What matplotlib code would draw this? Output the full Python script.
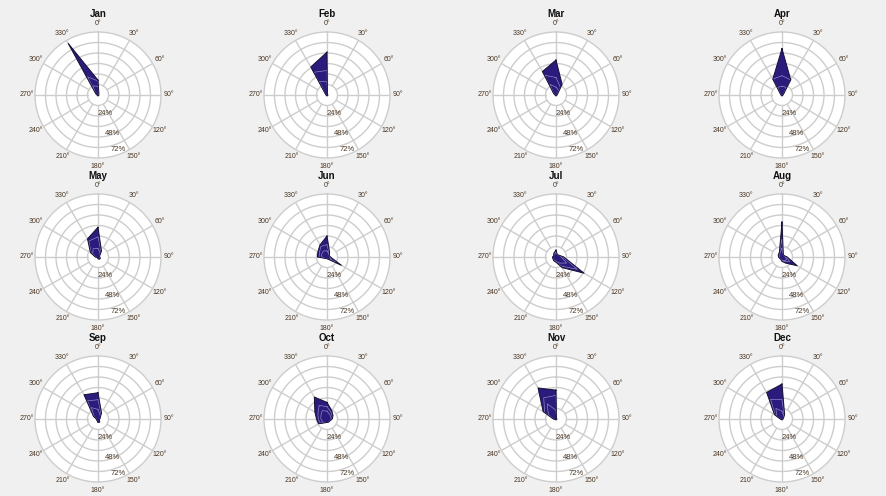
import numpy as np
import matplotlib
matplotlib.use("Agg")
import matplotlib.pyplot as plt

plt.rcParams['font.family'] = ['Liberation Sans', 'DejaVu Sans']

months = ["Jan", "Feb", "Mar", "Apr", "May", "Jun",
          "Jul", "Aug", "Sep", "Oct", "Nov", "Dec"]
directions_deg = [0, 30, 60, 90, 120, 150, 180, 210, 240, 270, 300, 330]
ring_pct = [12, 24, 36, 48, 60, 72]
ring_labels = ["24%", "48%", "72%"]
ring_label_pos = [23, 47, 66]

# frequency (%) per direction, cumulative over all speed classes
freq_all = [
    [17, 2, 1, 1, 1, 1, 1, 1, 1, 1, 3, 68],
    [49, 1, 1, 1, 1, 1, 1, 1, 1, 1, 2, 37],
    [40, 14, 2, 1, 1, 1, 1, 1, 1, 1, 3, 31],
    [53, 20, 2, 1, 1, 1, 1, 1, 1, 1, 2, 21],
    [34, 8, 2, 2, 3, 3, 2, 1, 1, 3, 10, 24],
    [24, 6, 3, 4, 19, 3, 2, 2, 3, 11, 12, 16],
    [8, 3, 4, 9, 37, 14, 6, 5, 4, 4, 3, 5],
    [40, 3, 3, 6, 20, 8, 5, 3, 3, 4, 5, 6],
    [30, 8, 3, 2, 2, 4, 4, 2, 2, 2, 6, 32],
    [19, 11, 8, 6, 4, 4, 4, 5, 11, 12, 16, 29],
    [33, 1, 1, 1, 1, 1, 1, 1, 1, 3, 17, 41],
    [40, 6, 2, 1, 1, 1, 1, 1, 1, 2, 10, 35],
]
# cumulative frequency of the two lower speed classes
freq_mid = [
    [16, 2, 1, 1, 1, 1, 1, 1, 1, 1, 3, 24],
    [28, 1, 1, 1, 1, 1, 1, 1, 1, 1, 2, 30],
    [20, 10, 2, 1, 1, 1, 1, 1, 1, 1, 3, 26],
    [22, 20, 2, 1, 1, 1, 1, 1, 1, 1, 2, 21],
    [23, 7, 2, 2, 3, 3, 2, 1, 1, 3, 9, 21],
    [14, 5, 3, 4, 12, 3, 2, 2, 3, 9, 10, 14],
    [6, 3, 4, 8, 28, 12, 6, 5, 4, 4, 3, 5],
    [20, 3, 3, 5, 10, 6, 5, 3, 3, 4, 5, 6],
    [22, 7, 3, 2, 2, 4, 4, 2, 2, 2, 6, 24],
    [14, 9, 7, 6, 4, 4, 4, 5, 9, 10, 12, 18],
    [27, 1, 1, 1, 1, 1, 1, 1, 1, 3, 15, 28],
    [22, 5, 2, 1, 1, 1, 1, 1, 1, 2, 9, 26],
]
# cumulative frequency of the lowest speed class
freq_low = [
    [10, 2, 1, 1, 1, 1, 1, 1, 1, 1, 3, 12],
    [15, 1, 1, 1, 1, 1, 1, 1, 1, 1, 2, 18],
    [9, 6, 2, 1, 1, 1, 1, 1, 1, 1, 3, 14],
    [10, 10, 2, 1, 1, 1, 1, 1, 1, 1, 2, 10],
    [10, 5, 2, 2, 3, 3, 2, 1, 1, 3, 7, 11],
    [7, 4, 3, 3, 6, 3, 2, 2, 3, 6, 7, 8],
    [5, 3, 4, 6, 14, 8, 5, 4, 4, 4, 3, 4],
    [10, 3, 3, 4, 6, 5, 4, 3, 3, 3, 4, 5],
    [11, 5, 3, 2, 2, 4, 4, 2, 2, 2, 5, 15],
    [9, 6, 5, 5, 4, 4, 4, 5, 6, 7, 8, 11],
    [10, 1, 1, 1, 1, 1, 1, 1, 1, 3, 10, 20],
    [9, 4, 2, 1, 1, 1, 1, 1, 1, 2, 7, 14],
]

FIG_W, FIG_H = 886, 496
col_cx = [98, 327, 556, 782]
row_cy = [95, 257, 419]
RADIUS_PX = 63

fill_color = "#2b1b7c"
inner_line = "#9a90cf"
grid_color = "#cdcdcd"
text_color = "#4a3522"

fig = plt.figure(figsize=(FIG_W / 100, FIG_H / 100), dpi=100)
fig.patch.set_facecolor("#f0f0f0")

theta = np.deg2rad(directions_deg)
theta_closed = np.append(theta, theta[0])
rmax = ring_pct[-1]

for i, month in enumerate(months):
    cx = col_cx[i % 4]
    cy = row_cy[i // 4]
    left = (cx - RADIUS_PX) / FIG_W
    bottom = 1 - (cy + RADIUS_PX) / FIG_H
    ax = fig.add_axes([left, bottom, 2 * RADIUS_PX / FIG_W, 2 * RADIUS_PX / FIG_H],
                      projection="polar")
    ax.set_theta_zero_location("N")
    ax.set_theta_direction(-1)
    ax.set_ylim(0, rmax)
    ax.set_facecolor("white")
    ax.grid(False)
    ax.set_xticks([])
    ax.set_yticks([])
    ax.spines["polar"].set_color(grid_color)
    ax.spines["polar"].set_linewidth(1.0)

    # rings and spokes
    ring_t = np.linspace(0, 2 * np.pi, 361)
    for r in ring_pct[:-1]:
        ax.plot(ring_t, np.full_like(ring_t, r), color=grid_color, lw=1.0, zorder=1)
    for d in directions_deg:
        t = np.deg2rad(d)
        ax.plot([t, t], [ring_pct[0], rmax], color=grid_color, lw=1.0, zorder=1)

    # wind rose polygons
    tot = np.append(freq_all[i], freq_all[i][0])
    mid = np.append(freq_mid[i], freq_mid[i][0])
    low = np.append(freq_low[i], freq_low[i][0])
    ax.fill(theta_closed, tot, color=fill_color, zorder=3, lw=0)
    ax.plot(theta_closed, tot, color="#151030", lw=0.7, zorder=5)
    ax.plot(theta_closed, mid, color=inner_line, lw=0.45, zorder=4)
    ax.plot(theta_closed, low, color=inner_line, lw=0.45, zorder=4)

    # angle labels
    for d in directions_deg:
        ax.text(np.deg2rad(d), rmax * 1.13, f"{d}°", ha="center", va="center",
                fontsize=5, color=text_color, clip_on=False)
    # ring labels
    for lab, rp in zip(ring_labels, ring_label_pos):
        ax.text(np.deg2rad(160), rp, lab, ha="center", va="center",
                fontsize=5.5, color=text_color, zorder=6)

    ax.text(0.5, 1.14, month, transform=ax.transAxes, ha="center", va="center",
            fontsize=7, fontweight="bold", color="#111111")

fig.savefig("out.png", dpi=100, facecolor=fig.get_facecolor())
